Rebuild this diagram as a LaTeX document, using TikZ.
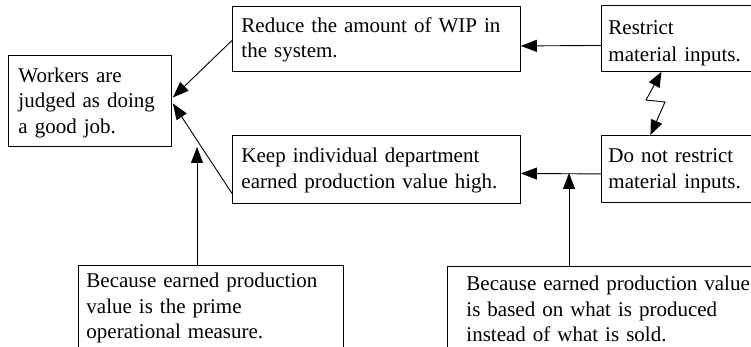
\documentclass[tikz,border=0pt]{standalone}
\usepackage{fontspec}
\setmainfont{Liberation Serif}
\usetikzlibrary{arrows.meta,calc}
\begin{document}
\begin{tikzpicture}[x=1pt,y=-1pt,
  box/.style={draw, line width=0.9pt, anchor=north west, align=left,
    font=\fontsize{21}{25.5}\selectfont},
  arr/.style={line width=0.9pt, -{Triangle[length=16pt,width=12pt]}},
  dblarr/.style={line width=0.9pt, {Triangle[length=15pt,width=12pt]}-{Triangle[length=15pt,width=12pt]}}]
\useasboundingbox (0,0) rectangle (751,347);
\clip (0,0) rectangle (751,347);
\fill[white] (0,0) rectangle (751,347);
\node[box, inner xsep=10pt, text width=143pt, minimum width=163pt, minimum height=91pt] (W) at (8,55)
  {\rule{0pt}{18pt}Workers are\\judged as doing\\a good job.};
\node[box, inner xsep=9pt, text width=270pt, minimum width=288pt, minimum height=65pt] (R) at (232,6)
  {\rule{0pt}{17pt}Reduce the amount of WIP in\\the system.};
\node[box, inner xsep=9pt, text width=270pt, minimum width=288pt, minimum height=68pt] (K) at (232,135)
  {\rule{0pt}{17pt}Keep individual department\\earned production value high.};
\node[box, inner xsep=7pt, text width=156pt, minimum width=170pt, minimum height=66pt,
  font=\fontsize{21}{27}\selectfont] (RS) at (601,5)
  {\rule{0pt}{23pt}Restrict\\material inputs.};
\node[box, inner xsep=7pt, text width=156pt, minimum width=170pt, minimum height=67pt] (DN) at (601,135)
  {\rule{0pt}{18pt}Do not restrict\\material inputs.};
\node[box, inner xsep=8pt, text width=249pt, minimum width=265pt, minimum height=85pt] (B1) at (78,265)
  {Because earned production\\value is the prime\\operational measure.};
\node[box, inner xsep=19pt, text width=300pt, minimum width=338pt, minimum height=85pt] (B2) at (447,266)
  {Because earned production value\\is based on what is produced\\instead of what is sold.};
% connectors
\coordinate (t1) at (197,147);
\coordinate (j2) at (569,173);
\draw[arr] ($(RS.west)+(0,7)$) -- ($(R.east)+(0,7)$);
\draw[arr] ($(DN.west)+(0,5)$) -- ($(K.east)+(0,4)$);
\draw[arr] (B2.north -| j2) -- (j2);
\draw[arr] (B1.north -| t1) -- (t1);
\draw[arr] ($(R.west)+(0,1.5)$) -- ($(W.east)+(1,-3.5)$);
\draw[arr] ($(K.west)+(0,24)$) -- ($(W.east)+(1,2.5)$);
\draw[dblarr] ($(RS.south)+(-25,0)$) -- (646,100) -- (665,102) -- ($(DN.north)+(-36,0)$);
\end{tikzpicture}
\end{document}
